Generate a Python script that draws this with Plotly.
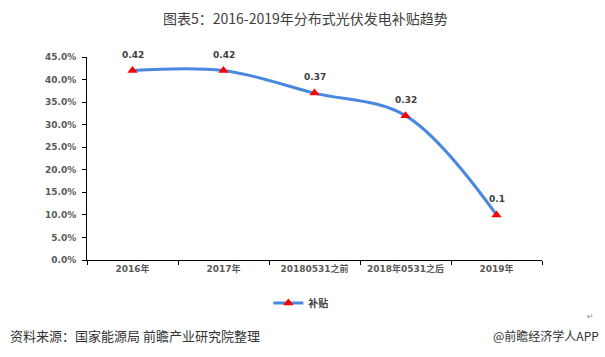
import plotly.graph_objects as go

categories = ["2016年", "2017年", "20180531之前", "2018年0531之后", "2019年"]
subsidy = [0.42, 0.42, 0.37, 0.32, 0.10]
subsidy_labels = ["0.42", "0.42", "0.37", "0.32", "0.1"]
y_ticks = [0, 0.05, 0.10, 0.15, 0.20, 0.25, 0.30, 0.35, 0.40, 0.45]

FONT = "DejaVu Sans, Noto Sans CJK SC, sans-serif"
CJK = "Noto Sans CJK SC, sans-serif"

fig = go.Figure()
fig.add_trace(go.Scatter(
    x=categories, y=subsidy, name="补贴",
    mode="lines+markers",
    line=dict(color="#4a88e0", width=3, shape="spline", smoothing=1.0),
    marker=dict(symbol="triangle-up", color="#ff0000", size=9),
    cliponaxis=False,
))

for cat, val, lab in zip(categories, subsidy, subsidy_labels):
    fig.add_annotation(x=cat, y=val, text=lab, showarrow=False, yshift=16,
                       xanchor="center", yanchor="middle",
                       font=dict(family=FONT, size=9, color="#404040", weight="bold"))

fig.update_layout(
    width=605, height=357,
    margin=dict(l=87, r=63, t=57, b=97),
    paper_bgcolor="white", plot_bgcolor="white",
    showlegend=True,
    legend=dict(orientation="h", x=0.47, xanchor="center", y=-0.14, yanchor="top",
                font=dict(family=FONT, size=10, color="#404040", weight="bold"),
                itemwidth=30),
    font=dict(family=FONT),
    xaxis=dict(
        type="category", tickson="boundaries", ticks="outside", ticklen=4,
        tickcolor="black", showline=True, linecolor="black", linewidth=1,
        showgrid=False, range=[-0.5, 4.5],
        tickfont=dict(family=FONT, size=9, color="#595959", weight="bold"),
    ),
    yaxis=dict(
        range=[0, 0.45], tickvals=y_ticks, tickformat=".1%",
        ticks="outside", ticklen=4, tickcolor="black",
        showline=True, linecolor="black", linewidth=1,
        showgrid=False, zeroline=False,
        tickfont=dict(family=FONT, size=9, color="#595959", weight="bold"),
        ticklabelstandoff=4,
    ),
)

fig.add_annotation(text="图表5：2016-2019年分布式光伏发电补贴趋势", xref="paper", yref="paper",
                   x=(305 - 87) / 455, y=(260 - 18) / 203, xanchor="center", yanchor="middle",
                   showarrow=False, font=dict(family=CJK, size=14, color="#404040"))
fig.add_annotation(text="资料来源：国家能源局 前瞻产业研究院整理", xref="paper", yref="paper",
                   x=(8 - 87) / 455, y=(260 - 335) / 203, xanchor="left", yanchor="middle",
                   showarrow=False, font=dict(family=CJK, size=13, color="#333333"))
fig.add_annotation(text="@前瞻经济学人APP", xref="paper", yref="paper",
                   x=(601 - 87) / 455, y=(260 - 335) / 203, xanchor="right", yanchor="middle",
                   showarrow=False, font=dict(family=CJK, size=12, color="#333333"))
fig.add_annotation(text="↵", xref="paper", yref="paper",
                   x=(590 - 87) / 455, y=(260 - 316) / 203, xanchor="center", yanchor="middle",
                   showarrow=False, font=dict(family=FONT, size=8, color="#888888"))

fig.write_html("out.html", config={"displayModeBar": False},
               post_script="document.body.style.margin='0';")
